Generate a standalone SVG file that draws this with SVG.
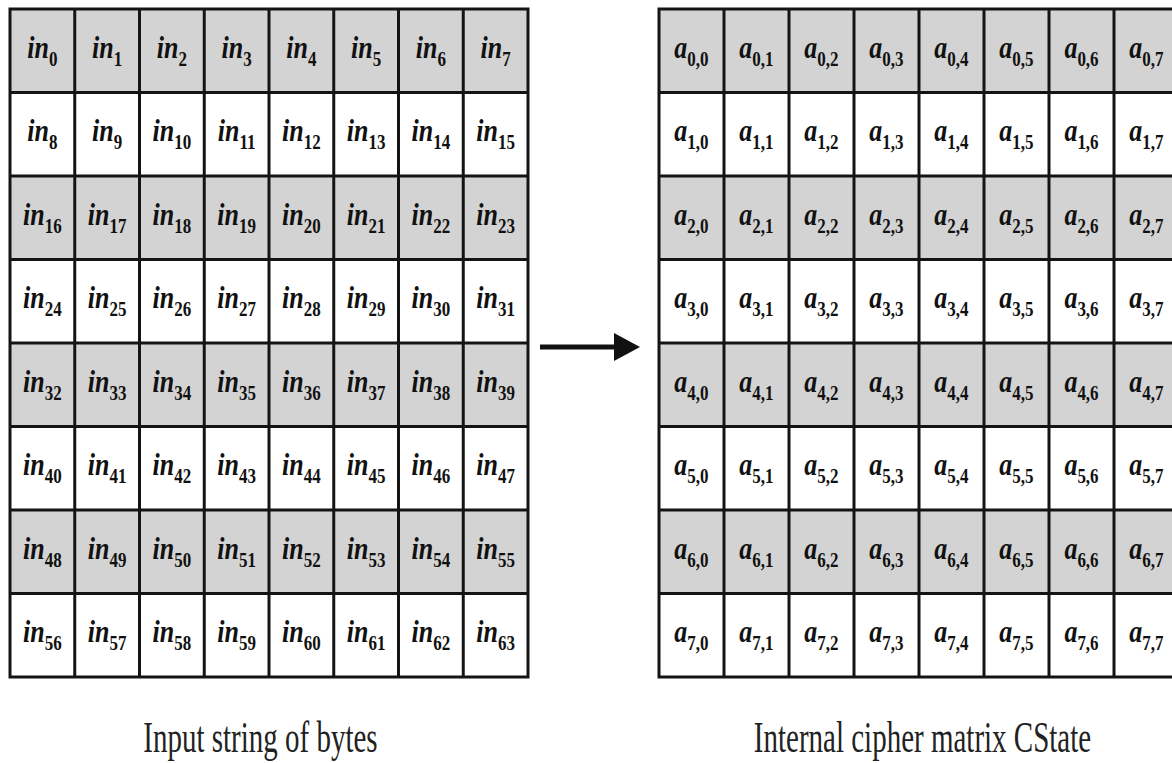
<svg xmlns="http://www.w3.org/2000/svg" width="1172" height="763" viewBox="0 0 1172 763">
  <style>
    .bg { fill: #ffffff; }
    .sh { fill: #d3d3d3; }
    .ln { fill: none; stroke: #141414; stroke-width: 3; stroke-linecap: square; }
    .c { font-family: "Liberation Serif", "Times New Roman", serif; font-weight: bold; font-style: italic; font-size: 26px; fill: #111; text-anchor: middle; }
    .s { font-size: 17px; font-style: normal; }
    .lb { font-family: "Liberation Serif", "Times New Roman", serif; font-size: 29px; fill: #222; text-anchor: middle; }
    .ar { stroke: #111; stroke-width: 5; fill: none; }
    .ah { fill: #111; }
  </style>
  <rect class="bg" x="0" y="0" width="1172" height="763"/>

  <!-- 8x8 input byte string -->
  <g id="input-grid">
    <rect class="sh" x="10" y="9" width="518" height="83.5"/>
    <rect class="sh" x="10" y="176" width="518" height="83.5"/>
    <rect class="sh" x="10" y="343" width="518" height="83.5"/>
    <rect class="sh" x="10" y="510" width="518" height="83.5"/>
    <path class="ln" d="M10,9V677M74.75,9V677M139.5,9V677M204.25,9V677M269,9V677M333.75,9V677M398.5,9V677M463.25,9V677M528,9V677
      M10,9H528M10,92.5H528M10,176H528M10,259.5H528M10,343H528M10,426.5H528M10,510H528M10,593.5H528M10,677H528"/>
    <g id="in-row0" class="c" transform="translate(0,57.75) scale(1,1.2)">
      <text x="42.4">in<tspan class="s" dy="6.7">0</tspan></text>
      <text x="107.1">in<tspan class="s" dy="6.7">1</tspan></text>
      <text x="171.9">in<tspan class="s" dy="6.7">2</tspan></text>
      <text x="236.6">in<tspan class="s" dy="6.7">3</tspan></text>
      <text x="301.4">in<tspan class="s" dy="6.7">4</tspan></text>
      <text x="366.1">in<tspan class="s" dy="6.7">5</tspan></text>
      <text x="430.9">in<tspan class="s" dy="6.7">6</tspan></text>
      <text x="495.6">in<tspan class="s" dy="6.7">7</tspan></text>
    </g>
    <g id="in-row1" class="c" transform="translate(0,141.25) scale(1,1.2)">
      <text x="42.4">in<tspan class="s" dy="6.7">8</tspan></text>
      <text x="107.1">in<tspan class="s" dy="6.7">9</tspan></text>
      <text x="171.9">in<tspan class="s" dy="6.7">10</tspan></text>
      <text x="236.6">in<tspan class="s" dy="6.7">11</tspan></text>
      <text x="301.4">in<tspan class="s" dy="6.7">12</tspan></text>
      <text x="366.1">in<tspan class="s" dy="6.7">13</tspan></text>
      <text x="430.9">in<tspan class="s" dy="6.7">14</tspan></text>
      <text x="495.6">in<tspan class="s" dy="6.7">15</tspan></text>
    </g>
    <g id="in-row2" class="c" transform="translate(0,224.75) scale(1,1.2)">
      <text x="42.4">in<tspan class="s" dy="6.7">16</tspan></text>
      <text x="107.1">in<tspan class="s" dy="6.7">17</tspan></text>
      <text x="171.9">in<tspan class="s" dy="6.7">18</tspan></text>
      <text x="236.6">in<tspan class="s" dy="6.7">19</tspan></text>
      <text x="301.4">in<tspan class="s" dy="6.7">20</tspan></text>
      <text x="366.1">in<tspan class="s" dy="6.7">21</tspan></text>
      <text x="430.9">in<tspan class="s" dy="6.7">22</tspan></text>
      <text x="495.6">in<tspan class="s" dy="6.7">23</tspan></text>
    </g>
    <g id="in-row3" class="c" transform="translate(0,308.25) scale(1,1.2)">
      <text x="42.4">in<tspan class="s" dy="6.7">24</tspan></text>
      <text x="107.1">in<tspan class="s" dy="6.7">25</tspan></text>
      <text x="171.9">in<tspan class="s" dy="6.7">26</tspan></text>
      <text x="236.6">in<tspan class="s" dy="6.7">27</tspan></text>
      <text x="301.4">in<tspan class="s" dy="6.7">28</tspan></text>
      <text x="366.1">in<tspan class="s" dy="6.7">29</tspan></text>
      <text x="430.9">in<tspan class="s" dy="6.7">30</tspan></text>
      <text x="495.6">in<tspan class="s" dy="6.7">31</tspan></text>
    </g>
    <g id="in-row4" class="c" transform="translate(0,391.75) scale(1,1.2)">
      <text x="42.4">in<tspan class="s" dy="6.7">32</tspan></text>
      <text x="107.1">in<tspan class="s" dy="6.7">33</tspan></text>
      <text x="171.9">in<tspan class="s" dy="6.7">34</tspan></text>
      <text x="236.6">in<tspan class="s" dy="6.7">35</tspan></text>
      <text x="301.4">in<tspan class="s" dy="6.7">36</tspan></text>
      <text x="366.1">in<tspan class="s" dy="6.7">37</tspan></text>
      <text x="430.9">in<tspan class="s" dy="6.7">38</tspan></text>
      <text x="495.6">in<tspan class="s" dy="6.7">39</tspan></text>
    </g>
    <g id="in-row5" class="c" transform="translate(0,475.25) scale(1,1.2)">
      <text x="42.4">in<tspan class="s" dy="6.7">40</tspan></text>
      <text x="107.1">in<tspan class="s" dy="6.7">41</tspan></text>
      <text x="171.9">in<tspan class="s" dy="6.7">42</tspan></text>
      <text x="236.6">in<tspan class="s" dy="6.7">43</tspan></text>
      <text x="301.4">in<tspan class="s" dy="6.7">44</tspan></text>
      <text x="366.1">in<tspan class="s" dy="6.7">45</tspan></text>
      <text x="430.9">in<tspan class="s" dy="6.7">46</tspan></text>
      <text x="495.6">in<tspan class="s" dy="6.7">47</tspan></text>
    </g>
    <g id="in-row6" class="c" transform="translate(0,558.75) scale(1,1.2)">
      <text x="42.4">in<tspan class="s" dy="6.7">48</tspan></text>
      <text x="107.1">in<tspan class="s" dy="6.7">49</tspan></text>
      <text x="171.9">in<tspan class="s" dy="6.7">50</tspan></text>
      <text x="236.6">in<tspan class="s" dy="6.7">51</tspan></text>
      <text x="301.4">in<tspan class="s" dy="6.7">52</tspan></text>
      <text x="366.1">in<tspan class="s" dy="6.7">53</tspan></text>
      <text x="430.9">in<tspan class="s" dy="6.7">54</tspan></text>
      <text x="495.6">in<tspan class="s" dy="6.7">55</tspan></text>
    </g>
    <g id="in-row7" class="c" transform="translate(0,642.25) scale(1,1.2)">
      <text x="42.4">in<tspan class="s" dy="6.7">56</tspan></text>
      <text x="107.1">in<tspan class="s" dy="6.7">57</tspan></text>
      <text x="171.9">in<tspan class="s" dy="6.7">58</tspan></text>
      <text x="236.6">in<tspan class="s" dy="6.7">59</tspan></text>
      <text x="301.4">in<tspan class="s" dy="6.7">60</tspan></text>
      <text x="366.1">in<tspan class="s" dy="6.7">61</tspan></text>
      <text x="430.9">in<tspan class="s" dy="6.7">62</tspan></text>
      <text x="495.6">in<tspan class="s" dy="6.7">63</tspan></text>
    </g>
  </g>

  <!-- 8x8 internal state matrix -->
  <g id="state-grid">
    <rect class="sh" x="659" y="9" width="520" height="83.5"/>
    <rect class="sh" x="659" y="176" width="520" height="83.5"/>
    <rect class="sh" x="659" y="343" width="520" height="83.5"/>
    <rect class="sh" x="659" y="510" width="520" height="83.5"/>
    <path class="ln" d="M659,9V677M724,9V677M789,9V677M854,9V677M919,9V677M984,9V677M1049,9V677M1114,9V677M1179,9V677
      M659,9H1179M659,92.5H1179M659,176H1179M659,259.5H1179M659,343H1179M659,426.5H1179M659,510H1179M659,593.5H1179M659,677H1179"/>
    <g id="a-row0" class="c" transform="translate(0,57.75) scale(1,1.2)">
      <text x="691.5">a<tspan class="s" dy="6.7">0,0</tspan></text>
      <text x="756.5">a<tspan class="s" dy="6.7">0,1</tspan></text>
      <text x="821.5">a<tspan class="s" dy="6.7">0,2</tspan></text>
      <text x="886.5">a<tspan class="s" dy="6.7">0,3</tspan></text>
      <text x="951.5">a<tspan class="s" dy="6.7">0,4</tspan></text>
      <text x="1016.5">a<tspan class="s" dy="6.7">0,5</tspan></text>
      <text x="1081.5">a<tspan class="s" dy="6.7">0,6</tspan></text>
      <text x="1146.5">a<tspan class="s" dy="6.7">0,7</tspan></text>
    </g>
    <g id="a-row1" class="c" transform="translate(0,141.25) scale(1,1.2)">
      <text x="691.5">a<tspan class="s" dy="6.7">1,0</tspan></text>
      <text x="756.5">a<tspan class="s" dy="6.7">1,1</tspan></text>
      <text x="821.5">a<tspan class="s" dy="6.7">1,2</tspan></text>
      <text x="886.5">a<tspan class="s" dy="6.7">1,3</tspan></text>
      <text x="951.5">a<tspan class="s" dy="6.7">1,4</tspan></text>
      <text x="1016.5">a<tspan class="s" dy="6.7">1,5</tspan></text>
      <text x="1081.5">a<tspan class="s" dy="6.7">1,6</tspan></text>
      <text x="1146.5">a<tspan class="s" dy="6.7">1,7</tspan></text>
    </g>
    <g id="a-row2" class="c" transform="translate(0,224.75) scale(1,1.2)">
      <text x="691.5">a<tspan class="s" dy="6.7">2,0</tspan></text>
      <text x="756.5">a<tspan class="s" dy="6.7">2,1</tspan></text>
      <text x="821.5">a<tspan class="s" dy="6.7">2,2</tspan></text>
      <text x="886.5">a<tspan class="s" dy="6.7">2,3</tspan></text>
      <text x="951.5">a<tspan class="s" dy="6.7">2,4</tspan></text>
      <text x="1016.5">a<tspan class="s" dy="6.7">2,5</tspan></text>
      <text x="1081.5">a<tspan class="s" dy="6.7">2,6</tspan></text>
      <text x="1146.5">a<tspan class="s" dy="6.7">2,7</tspan></text>
    </g>
    <g id="a-row3" class="c" transform="translate(0,308.25) scale(1,1.2)">
      <text x="691.5">a<tspan class="s" dy="6.7">3,0</tspan></text>
      <text x="756.5">a<tspan class="s" dy="6.7">3,1</tspan></text>
      <text x="821.5">a<tspan class="s" dy="6.7">3,2</tspan></text>
      <text x="886.5">a<tspan class="s" dy="6.7">3,3</tspan></text>
      <text x="951.5">a<tspan class="s" dy="6.7">3,4</tspan></text>
      <text x="1016.5">a<tspan class="s" dy="6.7">3,5</tspan></text>
      <text x="1081.5">a<tspan class="s" dy="6.7">3,6</tspan></text>
      <text x="1146.5">a<tspan class="s" dy="6.7">3,7</tspan></text>
    </g>
    <g id="a-row4" class="c" transform="translate(0,391.75) scale(1,1.2)">
      <text x="691.5">a<tspan class="s" dy="6.7">4,0</tspan></text>
      <text x="756.5">a<tspan class="s" dy="6.7">4,1</tspan></text>
      <text x="821.5">a<tspan class="s" dy="6.7">4,2</tspan></text>
      <text x="886.5">a<tspan class="s" dy="6.7">4,3</tspan></text>
      <text x="951.5">a<tspan class="s" dy="6.7">4,4</tspan></text>
      <text x="1016.5">a<tspan class="s" dy="6.7">4,5</tspan></text>
      <text x="1081.5">a<tspan class="s" dy="6.7">4,6</tspan></text>
      <text x="1146.5">a<tspan class="s" dy="6.7">4,7</tspan></text>
    </g>
    <g id="a-row5" class="c" transform="translate(0,475.25) scale(1,1.2)">
      <text x="691.5">a<tspan class="s" dy="6.7">5,0</tspan></text>
      <text x="756.5">a<tspan class="s" dy="6.7">5,1</tspan></text>
      <text x="821.5">a<tspan class="s" dy="6.7">5,2</tspan></text>
      <text x="886.5">a<tspan class="s" dy="6.7">5,3</tspan></text>
      <text x="951.5">a<tspan class="s" dy="6.7">5,4</tspan></text>
      <text x="1016.5">a<tspan class="s" dy="6.7">5,5</tspan></text>
      <text x="1081.5">a<tspan class="s" dy="6.7">5,6</tspan></text>
      <text x="1146.5">a<tspan class="s" dy="6.7">5,7</tspan></text>
    </g>
    <g id="a-row6" class="c" transform="translate(0,558.75) scale(1,1.2)">
      <text x="691.5">a<tspan class="s" dy="6.7">6,0</tspan></text>
      <text x="756.5">a<tspan class="s" dy="6.7">6,1</tspan></text>
      <text x="821.5">a<tspan class="s" dy="6.7">6,2</tspan></text>
      <text x="886.5">a<tspan class="s" dy="6.7">6,3</tspan></text>
      <text x="951.5">a<tspan class="s" dy="6.7">6,4</tspan></text>
      <text x="1016.5">a<tspan class="s" dy="6.7">6,5</tspan></text>
      <text x="1081.5">a<tspan class="s" dy="6.7">6,6</tspan></text>
      <text x="1146.5">a<tspan class="s" dy="6.7">6,7</tspan></text>
    </g>
    <g id="a-row7" class="c" transform="translate(0,642.25) scale(1,1.2)">
      <text x="691.5">a<tspan class="s" dy="6.7">7,0</tspan></text>
      <text x="756.5">a<tspan class="s" dy="6.7">7,1</tspan></text>
      <text x="821.5">a<tspan class="s" dy="6.7">7,2</tspan></text>
      <text x="886.5">a<tspan class="s" dy="6.7">7,3</tspan></text>
      <text x="951.5">a<tspan class="s" dy="6.7">7,4</tspan></text>
      <text x="1016.5">a<tspan class="s" dy="6.7">7,5</tspan></text>
      <text x="1081.5">a<tspan class="s" dy="6.7">7,6</tspan></text>
      <text x="1146.5">a<tspan class="s" dy="6.7">7,7</tspan></text>
    </g>
  </g>

  <!-- mapping arrow -->
  <g id="connectors">
    <path class="ar" d="M540,347H616"/>
    <path class="ah" d="M614,333L640,347L614,361z"/>
  </g>

  <!-- captions -->
  <g id="captions" class="lb">
    <text transform="translate(260.5,752) scale(1,1.5)">Input string of bytes</text>
    <text transform="translate(922.5,752) scale(1,1.5)">Internal cipher matrix CState</text>
  </g>
</svg>
